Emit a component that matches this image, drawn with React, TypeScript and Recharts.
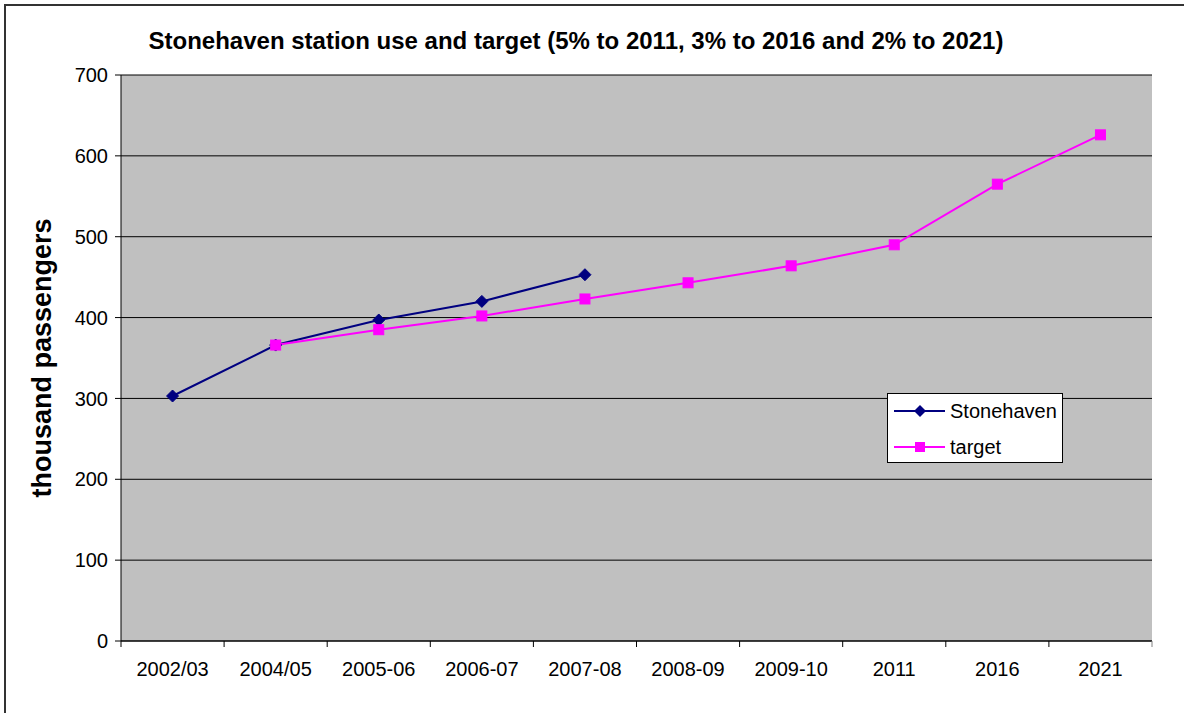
import React, { useLayoutEffect } from "react";
import { LineChart, Line, XAxis, YAxis, CartesianGrid, Legend } from "recharts";

const categories = ["2002/03", "2004/05", "2005-06", "2006-07", "2007-08", "2008-09", "2009-10", "2011", "2016", "2021"];
const stonehaven: (number | null)[] = [303, 366, 397, 420, 453, null, null, null, null, null];
const target: (number | null)[] = [null, 366, 385, 402, 423, 443, 464, 490, 565, 626];
const yTicks = [0, 100, 200, 300, 400, 500, 600, 700];

const data = categories.map((c, i) => ({ cat: c, stonehaven: stonehaven[i], target: target[i] }));

const FONT = "'Liberation Sans', Arial, sans-serif";
const NAVY = "#000080";
const MAGENTA = "#FF00FF";
const BW = 1031 / 10;
const TICK_OFFSET = 21;

const Diamond = (props: any) => {
  const { cx, cy } = props;
  if (cx == null || cy == null || props.value == null) return null;
  const r = 6;
  return <polygon key={props.index} points={`${cx},${cy - r} ${cx + r},${cy} ${cx},${cy + r} ${cx - r},${cy}`} fill={NAVY} stroke={NAVY} />;
};

const Square = (props: any) => {
  const { cx, cy } = props;
  if (cx == null || cy == null || props.value == null) return null;
  return <rect key={props.index} x={cx - 5} y={cy - 5} width={10} height={10} fill={MAGENTA} stroke={MAGENTA} />;
};

const XTick = (props: any) => {
  const { x, y, payload, index } = props;
  const axisY = y - TICK_OFFSET;
  return (
    <g>
      <line x1={x - BW / 2} y1={axisY} x2={x - BW / 2} y2={axisY + 6} stroke="#000" />
      {index === categories.length - 1 && (
        <line x1={x + BW / 2} y1={axisY} x2={x + BW / 2} y2={axisY + 6} stroke="#808080" />
      )}
      <text x={x} y={y} dy="0.71em" textAnchor="middle" fontSize={20} fontFamily={FONT} fill="#000">
        {payload.value}
      </text>
    </g>
  );
};

const LegendBox = () => (
  <div style={{ width: 176, height: 70, boxSizing: "border-box", border: "1px solid #000", background: "#fff", position: "relative", fontFamily: FONT, fontSize: 20 }}>
    <svg width={60} height={70} style={{ position: "absolute", left: 0, top: 0 }}>
      <line x1={6} y1={17} x2={57} y2={17} stroke={NAVY} strokeWidth={2} />
      <polygon points="32,11 38,17 32,23 26,17" fill={NAVY} />
      <line x1={6} y1={53} x2={57} y2={53} stroke={MAGENTA} strokeWidth={2} />
      <rect x={27} y={48} width={10} height={10} fill={MAGENTA} />
    </svg>
    <div style={{ position: "absolute", left: 62, top: 5, lineHeight: "24px" }}>Stonehaven</div>
    <div style={{ position: "absolute", left: 62, top: 41, lineHeight: "24px" }}>target</div>
  </div>
);

export default function App() {
  useLayoutEffect(() => {
    document.body.style.margin = "0";
  }, []);
  return (
    <div style={{ position: "relative", width: 1184, height: 713, overflow: "hidden", background: "#fff" }}>
      <div style={{ position: "absolute", left: 4, top: 4, width: 2, height: 709, background: "#333" }} />
      <div style={{ position: "absolute", left: 4, top: 4, width: 1180, height: 2, background: "#333" }} />
      <div style={{ position: "absolute", left: 5, top: 27, width: 1174, textAlign: "center", fontFamily: FONT, fontWeight: "bold", fontSize: 24, whiteSpace: "nowrap" }}>
        <span style={{ position: "relative", left: -16 }}>Stonehaven station use and target (5% to 2011, 3% to 2016 and 2% to 2021)</span>
      </div>
      <div style={{ position: "absolute", left: 42, top: 358, width: 0, height: 0 }}>
        <div style={{ position: "absolute", transform: "translate(-50%, -50%) rotate(-90deg)", whiteSpace: "nowrap", fontFamily: FONT, fontWeight: "bold", fontSize: 27 }}>
          thousand passengers
        </div>
      </div>
      <div style={{ position: "absolute", left: 5, top: 5 }}>
        <LineChart width={1174} height={704} data={data} margin={{ top: 70, right: 27, bottom: 38, left: 56 }}>
          <CartesianGrid vertical={false} stroke="#000" fill="#C0C0C0" fillOpacity={1} />
          <XAxis
            dataKey="cat"
            padding={{ left: BW / 2, right: BW / 2 }}
            axisLine={{ stroke: "#000" }}
            tickLine={false}
            tickSize={6}
            tickMargin={TICK_OFFSET - 6}
            height={30}
            interval={0}
            tick={<XTick />}
          />
          <XAxis xAxisId="t" dataKey="cat" orientation="top" height={0} tick={false} tickLine={false} axisLine={{ stroke: "#808080" }} />
          <YAxis
            domain={[0, 700]}
            ticks={yTicks}
            interval={0}
            width={60}
            axisLine={{ stroke: "#000" }}
            tickLine={{ stroke: "#000" }}
            tickSize={6}
            tickMargin={7}
            tick={{ fontSize: 20, fontFamily: FONT, fill: "#000" }}
          />
          <YAxis yAxisId="r" orientation="right" width={0} domain={[0, 700]} tick={false} tickLine={false} axisLine={{ stroke: "#808080" }} />
          <Line dataKey="stonehaven" stroke={NAVY} strokeWidth={2} dot={<Diamond />} activeDot={false} isAnimationActive={false} connectNulls={false} />
          <Line dataKey="target" stroke={MAGENTA} strokeWidth={2} dot={<Square />} activeDot={false} isAnimationActive={false} connectNulls={false} />
          <Legend layout="vertical" align="center" verticalAlign="middle" wrapperStyle={{ left: 882, top: 388, width: 176, height: 70 }} content={<LegendBox />} />
        </LineChart>
      </div>
    </div>
  );
}
